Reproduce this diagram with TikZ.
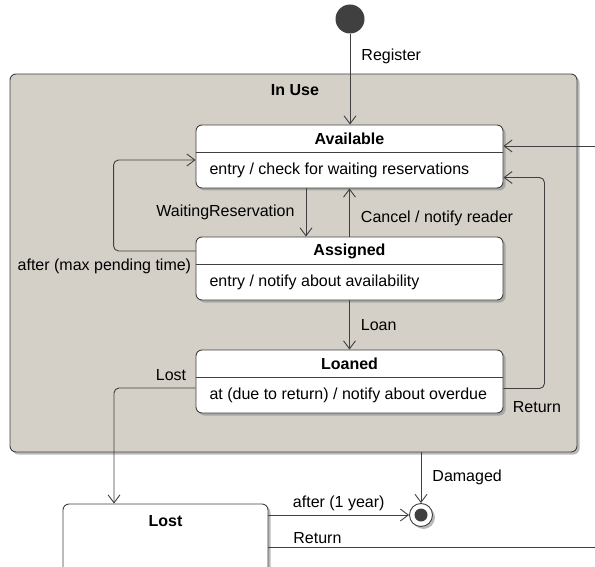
\documentclass[tikz,border=0pt]{standalone}
\usepackage{fontspec}
\setmainfont{Liberation Sans}
\usetikzlibrary{arrows.meta,shadows}

\definecolor{linegray}{HTML}{404040}
\definecolor{usegray}{HTML}{D4D0C8}

\begin{document}
\begin{tikzpicture}[
    x=1pt, y=-1pt,
    font=\fontsize{16}{19}\selectfont,
    shade/.style={
        drop shadow={shadow xshift=2.5pt, shadow yshift=-2.5pt, fill=black!45, opacity=.6}
    },
    composite/.style={
        draw=linegray,
        line width=0.9pt,
        fill=usegray,
        rounded corners=6pt,
        minimum width=567pt,
        minimum height=378pt,
        shade
    },
    state/.style={
        draw=linegray,
        line width=0.9pt,
        fill=white,
        rounded corners=6pt,
        minimum width=307pt,
        minimum height=63pt,
        shade
    },
    title/.style={
        font=\fontsize{16}{19}\selectfont\bfseries
    },
    activity/.style={
        anchor=west
    },
    divider/.style={
        draw=linegray,
        line width=0.9pt
    },
    trans/.style={
        draw=linegray,
        line width=0.9pt,
        rounded corners=5pt,
        -{Straight Barb[length=8pt,width=12pt]}
    },
    lbl/.style={
        inner sep=3pt
    }
]
    \useasboundingbox (0,0) rectangle (595,567);

    % Composite state
    \node[composite] (inuse) at (293.5,263) {};
    \node[title] (inusetitle) at (295,90) {In Use};

    % Pseudo states
    \node[circle, fill=linegray, minimum size=29pt, inner sep=0pt] (init) at (350,19) {};
    \node[circle, draw=linegray, line width=0.9pt, fill=white, minimum size=23pt, inner sep=0pt, shade] (final) at (421,515) {};
    \node[circle, fill=linegray, minimum size=13pt, inner sep=0pt] (finaldot) at (final) {};

    % States
    \node[state] (avail) at (349.5,156.5) {};
    \node[title] (availtitle) at (349.5,139) {Available};
    \draw[divider] ([yshift=-28pt]avail.north west) -- ([yshift=-28pt]avail.north east);
    \node[activity] (availdo) at (206,170) {entry / check for waiting reservations};

    \node[state] (assigned) at (349.5,268.5) {};
    \node[title] (assignedtitle) at (349.5,251) {Assigned};
    \draw[divider] ([yshift=-28pt]assigned.north west) -- ([yshift=-28pt]assigned.north east);
    \node[activity] (assigneddo) at (206,282) {entry / notify about availability};

    \node[state] (loaned) at (349.5,381.5) {};
    \node[title] (loanedtitle) at (349.5,364) {Loaned};
    \draw[divider] ([yshift=-28pt]loaned.north west) -- ([yshift=-28pt]loaned.north east);
    \node[activity] (loaneddo) at (206,395) {at (due to return) / notify about overdue};

    \node[state, minimum width=205pt, minimum height=80pt] (lost) at (165.5,544) {};
    \node[title] (losttitle) at (165.5,521) {Lost};

    % Free ends
    \coordinate (extin) at (595,146);
    \coordinate (extout) at (595,547);

    % Transitions
    \draw[trans] (init) -- (init |- avail.north)
        node[lbl, right=8pt, pos=0.25] {Register};
    \draw[trans] (extin) -- (extin -| avail.east);
    \draw[trans] ([xshift=-43.5pt]avail.south) -- ([xshift=-43.5pt]assigned.north)
        node[lbl, left=8pt, midway] {WaitingReservation};
    \draw[trans] (assigned.north) -- (avail.south)
        node[lbl, right=8pt, pos=0.38] {Cancel / notify reader};
    \draw[trans] ([yshift=17.5pt]assigned.west)
        node[lbl, anchor=north east, xshift=-1pt, yshift=-4pt] {after (max pending time)}
        -- ++(-82,0) |- ([yshift=-3.5pt]avail.west);
    \draw[trans] (assigned.south) -- (loaned.north)
        node[lbl, right=8pt, midway] {Loan};
    \draw[trans] ([yshift=-7pt]loaned.east)
        node[lbl, anchor=north west, xshift=6pt, yshift=-10pt] {Return}
        -- ++(41,0) |- ([yshift=-21pt]avail.east);
    \draw[trans] ([yshift=-6.5pt]loaned.west)
        node[lbl, above left, xshift=-6pt, yshift=4pt] {Lost}
        -| ([xshift=-51.5pt]lost.north);
    \draw[trans] (final |- inuse.south) -- (final.north)
        node[lbl, right=8pt, midway] {Damaged};
    \draw[trans] (final -| lost.east) -- (final.west)
        node[lbl, above=1pt, midway] {after (1 year)};
    \draw[divider] ([yshift=-3pt]lost.east) -- (extout)
        node[lbl, above, pos=0.15] {Return};
\end{tikzpicture}
\end{document}
